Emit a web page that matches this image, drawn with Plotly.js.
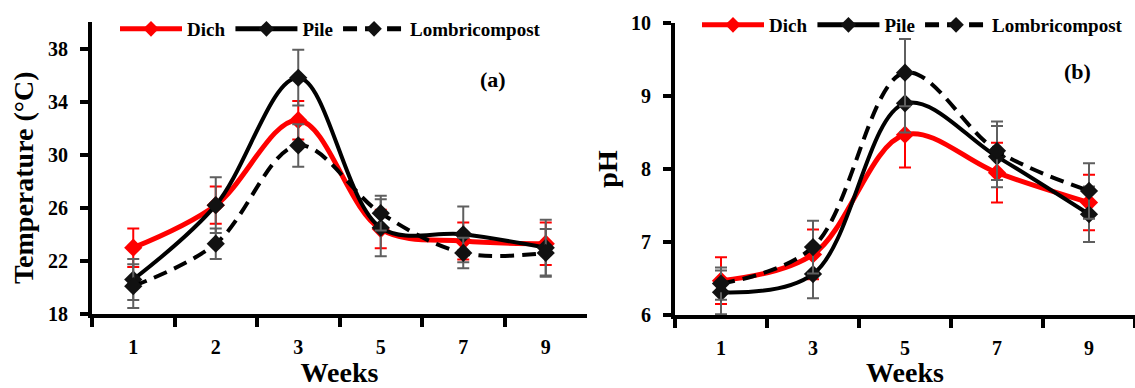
<!DOCTYPE html>
<html>
<head>
<meta charset="utf-8">
<script src="https://cdn.plot.ly/plotly-3.0.1.min.js"></script>
<style>html,body{margin:0;padding:0;background:#fff}#chart{width:1135px;height:388px}</style>
</head>
<body>
<div id="chart"></div>
<script>
// Panel (a): Temperature
const weeksA = ["1", "2", "3", "5", "7", "9"];
const tempDich = [23.0, 26.2, 32.6, 24.4, 23.5, 23.3];
const tempDichErr = [1.45, 1.4, 1.45, 1.45, 1.4, 1.6];
const tempPile = [20.6, 26.2, 35.8, 24.5, 24.0, 23.0];
const tempPileErr = [1.55, 2.1, 2.1, 2.15, 2.1, 2.1];
const tempLombri = [20.1, 23.3, 30.7, 25.6, 22.6, 22.6];
const tempLombriErr = [1.65, 1.15, 1.6, 1.3, 1.15, 1.8];

// Panel (b): pH
const weeksB = ["1", "3", "5", "7", "9"];
const phDich = [6.47, 6.83, 8.47, 7.95, 7.54];
const phDichErr = [0.32, 0.34, 0.45, 0.41, 0.38];
const phPile = [6.31, 6.56, 8.9, 8.17, 7.38];
const phPileErr = [0.3, 0.33, 0.4, 0.42, 0.38];
const phLombri = [6.43, 6.93, 9.32, 8.25, 7.70];
const phLombriErr = [0.22, 0.36, 0.46, 0.4, 0.38];

const seriesNames = ["Dich", "Pile", "Lombricompost"];

const FONT = "Liberation Serif";
const RED = "#ff0000";
const BLK = "#000000";
const GRAY = "#5f5f5f";

function mk(x, y, err, name, idx, xa, ya, leg) {
  const isRed = idx === 0;
  return {
    type: "scatter", mode: "lines+markers",
    x: x, y: y, name: name,
    xaxis: xa, yaxis: ya, legend: leg,
    line: {shape: "spline", smoothing: 1, color: isRed ? RED : BLK,
           width: isRed ? 5 : 4, dash: idx === 2 ? "14px,8px" : "solid"},
    marker: {symbol: "diamond", size: 14, color: isRed ? RED : "#111111"},
    error_y: {type: "data", array: err, visible: true,
              color: isRed ? RED : GRAY, thickness: 2, width: 6}
  };
}

const traces = [
  mk(weeksA, tempDich, tempDichErr, seriesNames[0], 0, "x", "y", "legend"),
  mk(weeksA, tempPile, tempPileErr, seriesNames[1], 1, "x", "y", "legend"),
  mk(weeksA, tempLombri, tempLombriErr, seriesNames[2], 2, "x", "y", "legend"),
  mk(weeksB, phDich, phDichErr, seriesNames[0], 0, "x2", "y2", "legend2"),
  mk(weeksB, phPile, phPileErr, seriesNames[1], 1, "x2", "y2", "legend2"),
  mk(weeksB, phLombri, phLombriErr, seriesNames[2], 2, "x2", "y2", "legend2")
];

const tickFont = {family: FONT, size: 20, color: BLK, weight: "bold"};
const titleFont = {family: FONT, size: 28, color: BLK, weight: "bold"};

function xax(domain, anchor, n) {
  return {
    domain: domain, anchor: anchor, type: "category",
    range: [-0.5, n - 0.5], tickson: "boundaries",
    showline: true, linewidth: 4, linecolor: BLK,
    ticks: "outside", ticklen: 9, tickwidth: 4, tickcolor: BLK,
    showgrid: false, zeroline: false, fixedrange: true,
    tickfont: tickFont, ticklabelstandoff: 12,
    title: {text: "Weeks", font: titleFont, standoff: 10}
  };
}
function yax(domain, anchor, range, dtick, title, standoff) {
  const ax = {
    domain: domain, anchor: anchor, range: range, dtick: dtick, tick0: range[0],
    showline: true, linewidth: 4, linecolor: BLK,
    ticks: "outside", ticklen: 8, tickwidth: 4, tickcolor: BLK,
    showgrid: false, zeroline: false, fixedrange: true,
    tickfont: tickFont, ticklabelstandoff: 8
  };
  if (title) ax.title = {text: title, font: titleFont, standoff: standoff};
  return ax;
}

const legendBase = {
  orientation: "h", xanchor: "left", yanchor: "middle",
  font: {family: FONT, size: 19, color: BLK, weight: "bold"},
  bgcolor: "rgba(0,0,0,0)", itemwidth: 62, itemsizing: "constant",
  tracegroupgap: 0
};

const layout = {
  width: 1135, height: 388,
  margin: {l: 0, r: 0, t: 0, b: 0},
  paper_bgcolor: "#ffffff", plot_bgcolor: "#ffffff",
  showlegend: true,
  xaxis: xax([92 / 1135, 587 / 1135], "y", weeksA.length),
  yaxis: yax([1 - 314 / 388, 1 - 22 / 388], "x", [18, 40], 4, null, 0),
  xaxis2: xax([675 / 1135, 1], "y2", weeksB.length),
  yaxis2: yax([1 - 315 / 388, 1 - 23 / 388], "x2", [6, 10], 1, "pH", 6),
  legend: Object.assign({}, legendBase, {x: 115 / 1135, y: 1 - 29 / 388}),
  legend2: Object.assign({}, legendBase, {x: 697 / 1135, y: 1 - 25 / 388}),
  annotations: [
    {text: "Temperature (°C)", xref: "paper", yref: "paper", x: 24 / 1135, y: 1 - 178 / 388,
     xanchor: "center", yanchor: "middle", textangle: -90,
     showarrow: false, font: titleFont},
    {text: "(a)", xref: "paper", yref: "paper", x: 493 / 1135, y: 1 - 80 / 388,
     xanchor: "center", yanchor: "middle",
     showarrow: false, font: {family: FONT, size: 22, color: BLK, weight: "bold"}},
    {text: "(b)", xref: "paper", yref: "paper", x: 1077 / 1135, y: 1 - 71 / 388,
     xanchor: "center", yanchor: "middle",
     showarrow: false, font: {family: FONT, size: 22, color: BLK, weight: "bold"}}
  ]
};

Plotly.newPlot("chart", traces, layout, {displayModeBar: false, staticPlot: true});
</script>
</body>
</html>
